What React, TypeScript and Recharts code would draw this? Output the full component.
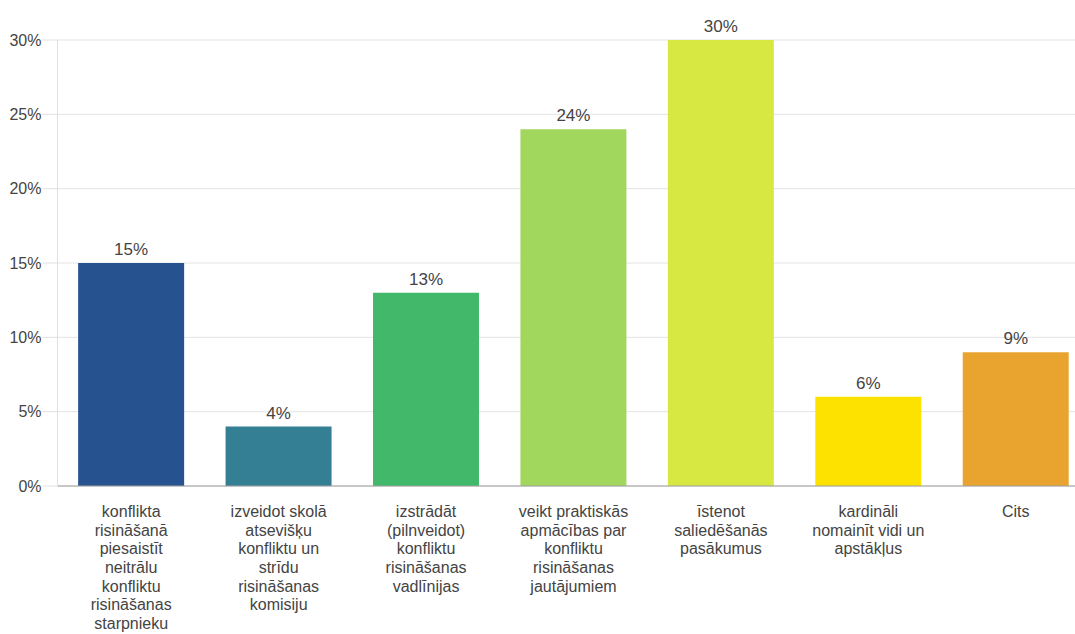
import { BarChart, Bar, XAxis, YAxis, CartesianGrid, Cell, LabelList } from 'recharts'

const categories = [
  'konflikta risināšanā piesaistīt neitrālu konfliktu risināšanas starpnieku',
  'izveidot skolā atsevišķu konfliktu un strīdu risināšanas komisiju',
  'izstrādāt (pilnveidot) konfliktu risināšanas vadlīnijas',
  'veikt praktiskās apmācības par konfliktu risināšanas jautājumiem',
  'īstenot saliedēšanās pasākumus',
  'kardināli nomainīt vidi un apstākļus',
  'Cits',
]

const labelLines = [
  ['konflikta', 'risināšanā', 'piesaistīt', 'neitrālu', 'konfliktu', 'risināšanas', 'starpnieku'],
  ['izveidot skolā', 'atsevišķu', 'konfliktu un', 'strīdu', 'risināšanas', 'komisiju'],
  ['izstrādāt', '(pilnveidot)', 'konfliktu', 'risināšanas', 'vadlīnijas'],
  ['veikt praktiskās', 'apmācības par', 'konfliktu', 'risināšanas', 'jautājumiem'],
  ['īstenot', 'saliedēšanās', 'pasākumus'],
  ['kardināli', 'nomainīt vidi un', 'apstākļus'],
  ['Cits'],
]

const values = [15, 4, 13, 24, 30, 6, 9]

const colors = ['#26528f', '#347f94', '#41b86a', '#a2d75d', '#d7e842', '#fde200', '#e9a430']

const yTicks = [0, 5, 10, 15, 20, 25, 30]

const data = categories.map((c, i) => ({ name: c, value: values[i], idx: i }))

const font = '"Liberation Sans", Arial, sans-serif'

function CategoryTick({ x, y, index }: any) {
  const lines = labelLines[index] ?? []
  return (
    <text x={x} y={y} textAnchor="middle" fill="#444" fontSize={16} fontFamily={font}>
      {lines.map((l, i) => (
        <tspan key={i} x={x} dy={i === 0 ? 23 : 18.67}>
          {l}
        </tspan>
      ))}
    </text>
  )
}

export default function App() {
  return (
    <div style={{ position: 'absolute', left: 0, top: 0, width: 1075, height: 634, overflow: 'hidden', background: '#fff' }}>
      <BarChart
        width={1100}
        height={634}
        data={data}
        margin={{ top: 40, right: 10.5, bottom: 0, left: 0 }}
        barCategoryGap="14%"
      >
        <CartesianGrid vertical={false} stroke="#e4e4e4" />
        <XAxis
          dataKey="name"
          height={148}
          interval={0}
          tickLine={false}
          axisLine={{ stroke: '#9e9e9e' }}
          tick={<CategoryTick />}
        />
        <YAxis
          width={57.5}
          domain={[0, 30]}
          ticks={yTicks}
          tickFormatter={(v) => `${v}%`}
          tickSize={15}
          tickMargin={1}
          tickLine={{ stroke: '#e0e0e0' }}
          axisLine={{ stroke: '#e0e0e0' }}
          tick={{ fill: '#444', fontSize: 16, fontFamily: font }}
        />
        <Bar dataKey="value" isAnimationActive={false}>
          {data.map((d) => (
            <Cell key={d.idx} fill={colors[d.idx]} />
          ))}
          <LabelList
            dataKey="value"
            position="top"
            offset={8}
            formatter={(v: any) => `${v}%`}
            style={{ fill: '#444', fontSize: 17, fontFamily: font }}
          />
        </Bar>
      </BarChart>
    </div>
  )
}
